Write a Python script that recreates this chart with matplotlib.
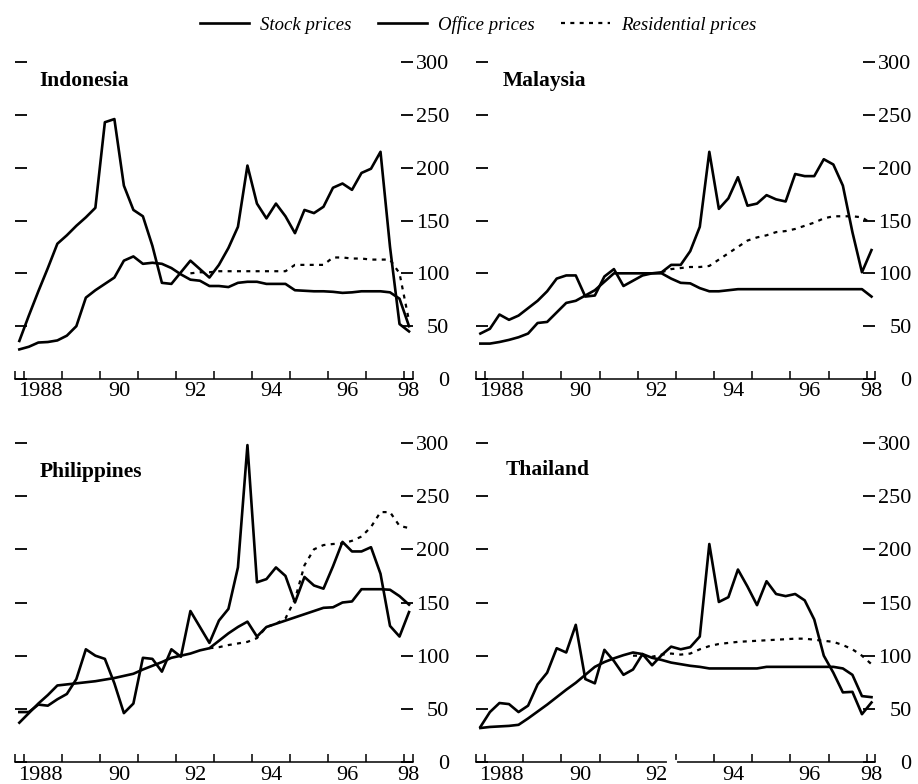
import matplotlib.pyplot as plt
import numpy as np
import pandas as pd

plt.rcParams['font.family'] = ['Liberation Serif', 'DejaVu Serif']

# quarterly observations, 1987Q4 - 1998Q1, plotted mid-quarter
quarters = pd.period_range('1987Q4', '1998Q1', freq='Q')
t = quarters.year + (quarters.quarter - 0.5) / 4

nan = np.nan

indonesia_stock = [36, 60, 83, 105, 128, 136, 145, 153, 162, 243, 246, 183, 160, 154,
                   126, 91, 90, 101, 112, 104, 96, 108, 124, 144, 202, 166, 152, 166,
                   154, 138, 160, 157, 163, 181, 185, 179, 195, 199, 215, 125, 52, 45]
indonesia_office = [28, 30.5, 34.5, 35, 36.5, 41, 50, 77, 84, 90, 96, 112, 116, 109,
                    110, 109, 105, 99, 94, 93, 88, 88, 87, 91, 92, 92, 90, 90,
                    90, 84, 83.5, 83, 83, 82.5, 81.5, 82, 83, 83, 83, 82, 76, 50]
indonesia_res = [nan] * 18 + [100, 101, 101, 102, 102, 102, 102, 102, 102, 102, 102,
                              108, 108, 108, 108, 115, 115, 114, 114, 113, 113, 113, 100, 55]

malaysia_stock = [43, 47.5, 61, 56, 60, 67, 74, 83, 95, 98, 98, 78, 79, 97,
                  104, 88, 93, 98, 100, 101, 108, 108, 121, 144, 215, 161, 171, 191,
                  164, 166, 174, 170, 168, 194, 192, 192, 208, 203, 183, 139, 101, 122]
malaysia_office = [33.5, 33.5, 35, 37, 39.5, 43, 53, 54, 63, 72, 74, 79, 84, 92,
                   100, 100, 100, 100, 100, 100, 95, 91, 90.5, 86, 83, 83, 84, 85,
                   85, 85, 85, 85, 85, 85, 85, 85, 85, 85, 85, 85, 85, 78]
malaysia_res = [nan] * 19 + [101, 104, 105, 106, 106, 107, 113, 119, 125, 131, 134, 136,
                             139, 140, 142, 145, 148, 152, 154, 154, 154, 153, 147]

philippines_stock = [47, 47, 54, 53, 59, 64, 78, 106, 100, 97, 74, 46, 55, 98,
                     97, 85, 106, 99, 142, 127, 112, 133, 144, 183, 298, 169, 172, 183,
                     175, 150, 174, 166, 163, 184, 207, 198, 198, 202, 177, 128, 118, 141]
philippines_office = [37, 46, 55, 63, 72, 73, 74, 75, 76, 77.5, 79, 81, 83, 87,
                      90.5, 94, 98, 100, 102, 105, 107, 114, 121, 127, 132, 118, 127, 130,
                      133, 136, 139, 142, 145, 145.5, 150, 151, 162.5, 162.5, 162.5, 162, 156, 148]
philippines_res = [nan] * 20 + [107, 108, 110, 111.5, 113, 116.5, 127, 130, 135, 153, 185,
                                200, 204, 205, 205.5, 208, 212, 221, 235, 235, 222, 220]

thailand_stock = [33, 47, 55.5, 54.5, 47, 53, 73, 84, 107, 103, 129, 78, 74, 105.5,
                  95, 82, 87, 101.5, 91, 100.5, 108.5, 106, 108, 118, 205, 150.5, 155, 181,
                  165, 147.5, 170, 158, 156, 158, 152, 134, 100, 84, 65.5, 66, 45, 56]
thailand_office = [32, 33, 33.5, 34, 35, 41, 47.5, 54, 61, 68, 74.5, 82, 89.5, 94,
                   97.5, 100.5, 103, 101.5, 98, 96, 93.5, 92, 90.5, 89.5, 88, 88, 88, 88,
                   88, 88, 89.5, 89.5, 89.5, 89.5, 89.5, 89.5, 89.5, 89.5, 88, 82, 62, 61]
thailand_res = [nan] * 16 + [100, 100, 99, 101, 102, 101, 102, 106, 109, 111, 112, 113,
                             113.5, 114, 114.5, 115, 115.5, 116, 116, 115, 114, 113, 110,
                             106, 100, 92]

year_ticks = list(range(1988, 1999))
label_pos = [1988.42, 1990.5, 1992.5, 1994.5, 1996.5, 1998.12]
label_txt = ['1988', '90', '92', '94', '96', '98']
y_ticks = [0, 50, 100, 150, 200, 250, 300]
x_lo, x_hi = 1987.76, 1998.23

fig = plt.figure(figsize=(9.18, 7.84))

panels = [
    ('Indonesia', indonesia_stock, indonesia_office, indonesia_res,
     [0.0163, 0.5166, 0.4336, 0.4043], 0.062, 0.94),
    ('Malaysia', malaysia_stock, malaysia_office, malaysia_res,
     [0.5185, 0.5166, 0.4352, 0.4043], 0.068, 0.94),
    ('Philippines', philippines_stock, philippines_office, philippines_res,
     [0.0163, 0.0280, 0.4336, 0.4070], 0.062, 0.91),
    ('Thailand', thailand_stock, thailand_office, thailand_res,
     [0.5185, 0.0280, 0.4352, 0.4070], 0.075, 0.915),
]

handles = None
for name, stock, office, res, rect, tx, ty in panels:
    ax = fig.add_axes(rect)
    l1, = ax.plot(t, stock, color='black', lw=1.9, clip_on=False)
    l2, = ax.plot(t, office, color='black', lw=1.9, clip_on=False)
    l3, = ax.plot(t, res, color='black', lw=1.6, ls=(0, (1.8, 2.4)), clip_on=False)
    if handles is None:
        handles = [l1, l2, l3]

    ax.set_xlim(x_lo, x_hi)
    ax.set_ylim(0, 300)
    for s in ['top', 'left', 'right']:
        ax.spines[s].set_visible(False)
    ax.spines['bottom'].set_linewidth(1.1)

    ax.set_xticks([x_lo] + year_ticks + [x_hi])
    ax.set_xticklabels([])
    ax.set_xticks(label_pos, minor=True)
    ax.set_xticklabels(label_txt, minor=True)
    ax.tick_params(axis='x', which='major', direction='in', length=5.5, width=1.1)
    ax.tick_params(axis='x', which='minor', length=0, pad=2.5, labelsize=16)

    ax.set_yticks(y_ticks)
    ax.tick_params(axis='y', direction='in', length=8.5, width=1.3, pad=26,
                   labelsize=16, left=True, right=True,
                   labelleft=False, labelright=True)
    for tk in ax.yaxis.get_major_ticks():
        tk.label2.set_horizontalalignment('right')

    ax.text(tx, ty, name, transform=ax.transAxes, fontsize=15.5,
            fontweight='bold', va='center')

    if name == 'Thailand':
        # small break in the time axis
        ax.plot([1992.82, 1992.97], [0, 0], color='white', lw=3,
                clip_on=False, zorder=5)

fig.legend(handles, ['Stock prices', 'Office prices', 'Residential prices'],
           loc='center', bbox_to_anchor=(0.521, 0.968), ncol=3, frameon=False,
           prop={'style': 'italic', 'size': 13.5}, handlelength=2.6,
           handletextpad=0.6, columnspacing=1.4)

fig.savefig('out.png', dpi=100)
